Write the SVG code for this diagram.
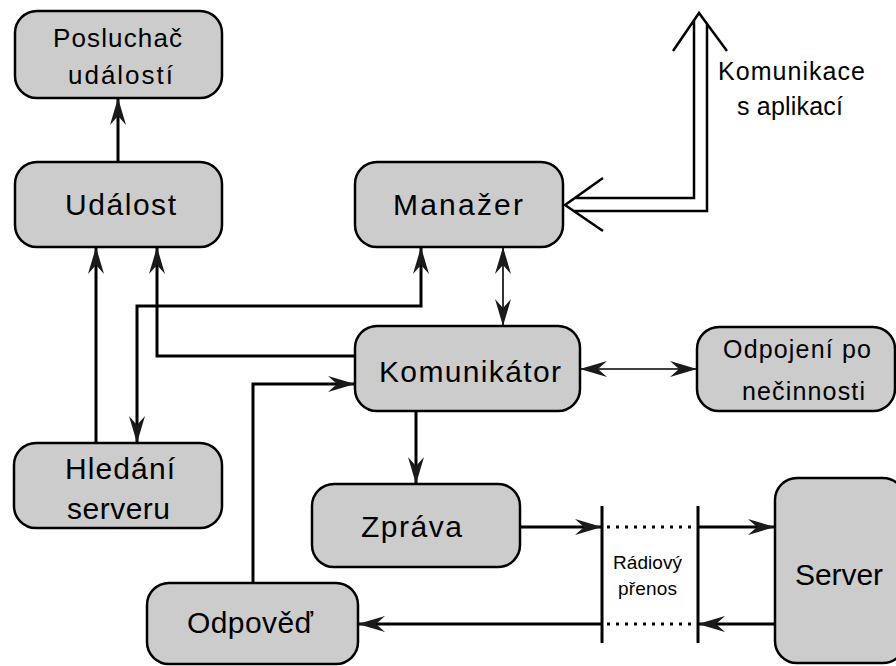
<svg xmlns="http://www.w3.org/2000/svg" width="896" height="666" viewBox="0 0 896 666">
<defs>
<style>
.box{fill:#cccccc;stroke:#000;stroke-width:2.5}
.t{font-family:"Liberation Sans",Arial,sans-serif;fill:#000}
.thick{fill:none;stroke:#000;stroke-width:3}
.thin{fill:none;stroke:#000;stroke-width:1.6}
.hollow{fill:none;stroke:#000;stroke-width:2.5}
</style>
<marker id="ah" markerUnits="userSpaceOnUse" markerWidth="30" markerHeight="18" refX="27" refY="8" orient="auto-start-reverse" viewBox="0 0 30 18">
<path d="M0,0 L27,8 L0,16 L9,8 z" fill="#1a1a1a"/>
</marker>
</defs>
<rect width="896" height="666" fill="#fff"/>
<g id="connectors">
<path class="thick" d="M118,162 V98" marker-end="url(#ah)"/>
<path class="thick" d="M96,443 V247" marker-end="url(#ah)"/>
<path class="thick" d="M355,356 H157 V247" marker-end="url(#ah)"/>
<path class="thick" d="M137,443 V306 H421 V247" marker-start="url(#ah)" marker-end="url(#ah)"/>
<path class="thin" d="M503,247 V326" marker-start="url(#ah)" marker-end="url(#ah)"/>
<path class="thin" d="M580,369 H697" marker-start="url(#ah)" marker-end="url(#ah)"/>
<path class="thick" d="M416,411 V484" marker-end="url(#ah)"/>
<path class="thick" d="M253,583 V384 H355" marker-end="url(#ah)"/>
<path class="thick" d="M520,527 H602" marker-end="url(#ah)"/>
<path class="thick" d="M698,527 H775" marker-end="url(#ah)"/>
<path class="thick" d="M775,624 H698" marker-end="url(#ah)"/>
<path class="thick" d="M602,624 H358" marker-end="url(#ah)"/>
<path class="thick" d="M602,506 V643 M698,506 V643"/>
<path fill="none" stroke="#000" stroke-width="3" stroke-dasharray="3,6" d="M607,527 H695 M607,624 H695"/>
<path class="hollow" d="M673,51 L699,13 L727,51 M603,178 L565,205 L603,231 M694,20 V198 H575 M707,24 V211 H574"/>
</g>
<g id="posluchac">
<rect class="box" x="15" y="11" width="207" height="87" rx="22"/>
<text class="t" x="53" y="47" font-size="26" textLength="129">Posluchač</text>
<text class="t" x="68" y="84" font-size="26" textLength="105">událostí</text>
</g>
<g id="udalost">
<rect class="box" x="15" y="162" width="207" height="85" rx="22"/>
<text class="t" x="65" y="215" font-size="30" textLength="111">Událost</text>
</g>
<g id="manazer">
<rect class="box" x="355" y="162" width="208" height="85" rx="22"/>
<text class="t" x="393" y="215" font-size="30" textLength="130">Manažer</text>
</g>
<g id="komunikace-label">
<text class="t" x="718" y="80" font-size="25" textLength="147">Komunikace</text>
<text class="t" x="737" y="115" font-size="25" textLength="106">s aplikací</text>
</g>
<g id="komunikator">
<rect class="box" x="355" y="326" width="225" height="85" rx="22"/>
<text class="t" x="379" y="382" font-size="30" textLength="182">Komunikátor</text>
</g>
<g id="odpojeni">
<rect class="box" x="697" y="327" width="198" height="84" rx="22"/>
<text class="t" x="723" y="358" font-size="25" textLength="148">Odpojení po</text>
<text class="t" x="742" y="400" font-size="25" textLength="123">nečinnosti</text>
</g>
<g id="hledani">
<rect class="box" x="14" y="443" width="208" height="85" rx="22"/>
<text class="t" x="65" y="479" font-size="30" textLength="110">Hledání</text>
<text class="t" x="67" y="519" font-size="30" textLength="103">serveru</text>
</g>
<g id="zprava">
<rect class="box" x="312" y="484" width="208" height="83" rx="22"/>
<text class="t" x="361" y="537" font-size="30" textLength="101">Zpráva</text>
</g>
<g id="radio">
<text class="t" x="613" y="569" font-size="19" textLength="69">Rádiový</text>
<text class="t" x="618" y="595" font-size="19" textLength="59">přenos</text>
</g>
<g id="odpoved">
<rect class="box" x="147" y="583" width="211" height="81" rx="22"/>
<text class="t" x="187" y="633" font-size="30" textLength="126">Odpověď</text>
</g>
<g id="server">
<rect class="box" x="775" y="478" width="130" height="185" rx="22"/>
<text class="t" x="795" y="585" font-size="30" textLength="88">Server</text>
</g>
</svg>
